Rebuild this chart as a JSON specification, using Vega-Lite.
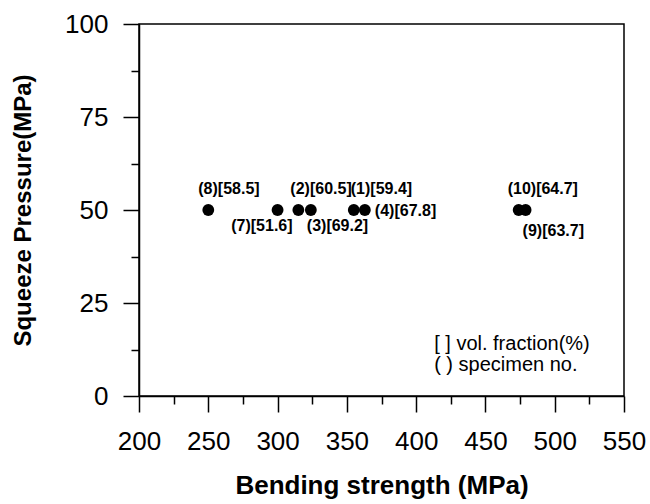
{
  "$schema": "https://vega.github.io/schema/vega-lite/v6.json",
  "width": 485,
  "height": 372,
  "autosize": {"type": "none"},
  "padding": {"left": 139, "top": 24, "right": 26, "bottom": 108},
  "background": "white",
  "config": {
    "font": "Liberation Sans",
    "view": {"stroke": "black", "strokeWidth": 1.5},
    "axis": {
      "grid": false,
      "labelFlush": false,
      "domainColor": "black",
      "tickColor": "black",
      "labelColor": "black",
      "titleColor": "black",
      "domainWidth": 1.5,
      "tickWidth": 1.5
    }
  },
  "datasets": {
    "points": [
      {"specimen": 1, "strength": 355, "pressure": 50, "label": "(1)[59.4]"},
      {"specimen": 2, "strength": 315, "pressure": 50, "label": "(2)[60.5]"},
      {"specimen": 3, "strength": 324, "pressure": 50, "label": "(3)[69.2]"},
      {"specimen": 4, "strength": 363, "pressure": 50, "label": "(4)[67.8]"},
      {"specimen": 7, "strength": 300, "pressure": 50, "label": "(7)[51.6]"},
      {"specimen": 8, "strength": 250, "pressure": 50, "label": "(8)[58.5]"},
      {"specimen": 9, "strength": 479, "pressure": 50, "label": "(9)[63.7]"},
      {"specimen": 10, "strength": 474, "pressure": 50, "label": "(10)[64.7]"}
    ],
    "note": [
      {"line": 1, "text": "[ ] vol. fraction(%)"},
      {"line": 2, "text": "( ) specimen no."}
    ]
  },
  "layer": [
    {
      "data": {"name": "points"},
      "mark": {"type": "point", "filled": true, "size": 140, "color": "black", "opacity": 1},
      "encoding": {
        "x": {"field": "strength", "type": "quantitative", "scale": {"domain": [200, 550], "nice": false, "zero": false},
          "axis": {"orient": "bottom", "values": [200, 250, 300, 350, 400, 450, 500, 550], "tickSize": 16, "labelFontSize": 26, "labelPadding": 16, "title": "Bending strength (MPa)", "titleFontSize": 26, "titleFontWeight": "bold", "titlePadding": 18}},
        "y": {"field": "pressure", "type": "quantitative", "scale": {"domain": [0, 100], "nice": false},
          "axis": {"orient": "left", "values": [0, 25, 50, 75, 100], "tickSize": 16, "labelFontSize": 26, "labelPadding": 15, "title": "Squeeze Pressure(MPa)", "titleFontSize": 24, "titleFontWeight": "bold", "titlePadding": 29}}
      }
    },
    {
      "data": {"name": "points"},
      "mark": {"type": "point", "opacity": 0},
      "encoding": {
        "x": {"field": "strength", "type": "quantitative",
          "axis": {"orient": "bottom", "values": [225, 275, 325, 375, 425, 475, 525], "tickSize": 8, "labels": false, "domain": false, "title": null}},
        "y": {"field": "pressure", "type": "quantitative",
          "axis": {"orient": "left", "values": [12.5, 37.5, 62.5, 87.5], "tickSize": 8, "labels": false, "domain": false, "title": null}}
      }
    },
    {
      "data": {"name": "points"},
      "layer": [
        {"transform": [{"filter": "datum.specimen == 8"}], "mark": {"type": "text", "align": "left", "baseline": "middle", "dx": -10, "dy": -21, "fontSize": 16, "fontWeight": "bold", "color": "black"}},
        {"transform": [{"filter": "datum.specimen == 2"}], "mark": {"type": "text", "align": "left", "baseline": "middle", "dx": -8, "dy": -21, "fontSize": 16, "fontWeight": "bold", "color": "black"}},
        {"transform": [{"filter": "datum.specimen == 1"}], "mark": {"type": "text", "align": "left", "baseline": "middle", "dx": -3, "dy": -21, "fontSize": 16, "fontWeight": "bold", "color": "black"}},
        {"transform": [{"filter": "datum.specimen == 10"}], "mark": {"type": "text", "align": "left", "baseline": "middle", "dx": -11, "dy": -21, "fontSize": 16, "fontWeight": "bold", "color": "black"}},
        {"transform": [{"filter": "datum.specimen == 7"}], "mark": {"type": "text", "align": "right", "baseline": "middle", "dx": 15, "dy": 16, "fontSize": 16, "fontWeight": "bold", "color": "black"}},
        {"transform": [{"filter": "datum.specimen == 3"}], "mark": {"type": "text", "align": "left", "baseline": "middle", "dx": -4, "dy": 16, "fontSize": 16, "fontWeight": "bold", "color": "black"}},
        {"transform": [{"filter": "datum.specimen == 4"}], "mark": {"type": "text", "align": "left", "baseline": "middle", "dx": 10, "dy": 1, "fontSize": 16, "fontWeight": "bold", "color": "black"}},
        {"transform": [{"filter": "datum.specimen == 9"}], "mark": {"type": "text", "align": "left", "baseline": "middle", "dx": -3, "dy": 21, "fontSize": 16, "fontWeight": "bold", "color": "black"}}
      ],
      "encoding": {
        "x": {"field": "strength", "type": "quantitative", "axis": null},
        "y": {"field": "pressure", "type": "quantitative", "axis": null},
        "text": {"field": "label"}
      }
    },
    {
      "data": {"name": "note"},
      "transform": [{"filter": "datum.line == 1"}],
      "mark": {"type": "text", "align": "left", "baseline": "alphabetic", "fontSize": 20, "color": "black"},
      "encoding": {
        "x": {"datum": 413, "type": "quantitative", "axis": null},
        "y": {"datum": 12.4, "type": "quantitative", "axis": null},
        "text": {"field": "text"}
      }
    },
    {
      "data": {"name": "note"},
      "transform": [{"filter": "datum.line == 2"}],
      "mark": {"type": "text", "align": "left", "baseline": "alphabetic", "fontSize": 20, "color": "black"},
      "encoding": {
        "x": {"datum": 413, "type": "quantitative", "axis": null},
        "y": {"datum": 6.7, "type": "quantitative", "axis": null},
        "text": {"field": "text"}
      }
    }
  ],
  "resolve": {"axis": {"x": "independent", "y": "independent"}}
}
